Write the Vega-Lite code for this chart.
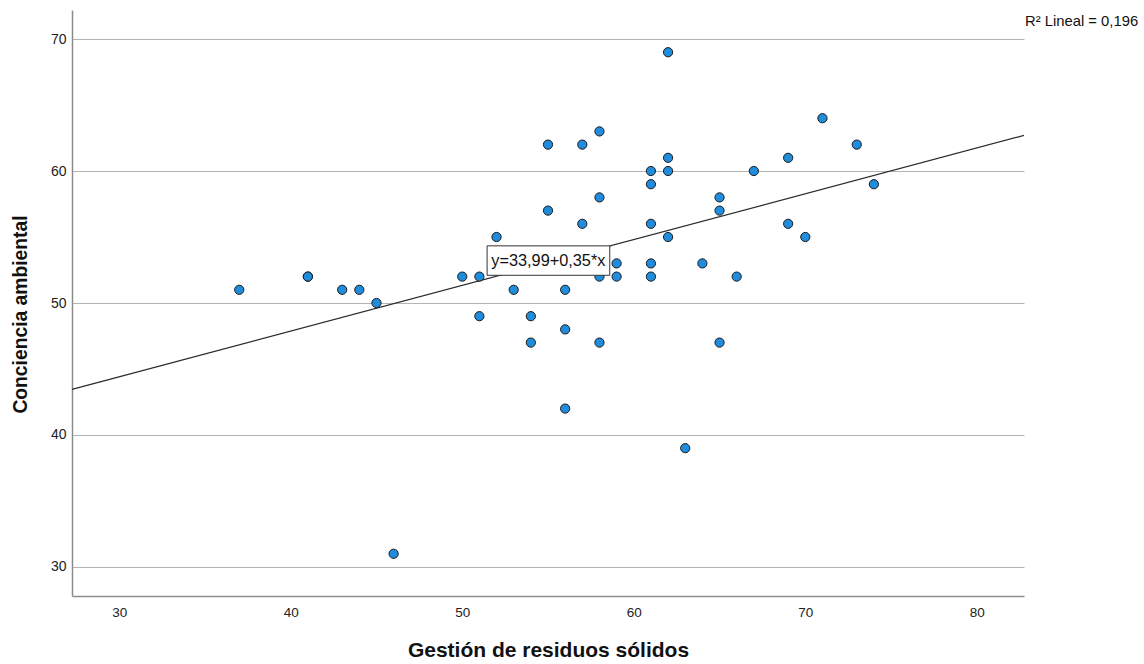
{
  "$schema": "https://vega.github.io/schema/vega-lite/v6.json",
  "width": 952,
  "height": 586,
  "autosize": "none",
  "padding": {"left": 72, "top": 10, "right": 120, "bottom": 68},
  "background": "white",
  "config": {
    "view": {"stroke": null},
    "font": "Liberation Sans"
  },
  "datasets": {
    "points": [
      {"gestion": 37, "conciencia": 51},
      {"gestion": 41, "conciencia": 52},
      {"gestion": 41, "conciencia": 52},
      {"gestion": 43, "conciencia": 51},
      {"gestion": 44, "conciencia": 51},
      {"gestion": 45, "conciencia": 50},
      {"gestion": 46, "conciencia": 31},
      {"gestion": 50, "conciencia": 52},
      {"gestion": 51, "conciencia": 52},
      {"gestion": 51, "conciencia": 49},
      {"gestion": 52, "conciencia": 55},
      {"gestion": 53, "conciencia": 51},
      {"gestion": 54, "conciencia": 49},
      {"gestion": 54, "conciencia": 47},
      {"gestion": 55, "conciencia": 62},
      {"gestion": 55, "conciencia": 57},
      {"gestion": 56, "conciencia": 51},
      {"gestion": 56, "conciencia": 48},
      {"gestion": 56, "conciencia": 42},
      {"gestion": 57, "conciencia": 62},
      {"gestion": 57, "conciencia": 56},
      {"gestion": 58, "conciencia": 63},
      {"gestion": 58, "conciencia": 58},
      {"gestion": 58, "conciencia": 52},
      {"gestion": 58, "conciencia": 47},
      {"gestion": 59, "conciencia": 53},
      {"gestion": 59, "conciencia": 52},
      {"gestion": 61, "conciencia": 60},
      {"gestion": 61, "conciencia": 59},
      {"gestion": 61, "conciencia": 56},
      {"gestion": 61, "conciencia": 53},
      {"gestion": 61, "conciencia": 52},
      {"gestion": 62, "conciencia": 69},
      {"gestion": 62, "conciencia": 61},
      {"gestion": 62, "conciencia": 60},
      {"gestion": 62, "conciencia": 55},
      {"gestion": 63, "conciencia": 39},
      {"gestion": 64, "conciencia": 53},
      {"gestion": 65, "conciencia": 58},
      {"gestion": 65, "conciencia": 57},
      {"gestion": 65, "conciencia": 47},
      {"gestion": 66, "conciencia": 52},
      {"gestion": 67, "conciencia": 60},
      {"gestion": 69, "conciencia": 61},
      {"gestion": 69, "conciencia": 56},
      {"gestion": 70, "conciencia": 55},
      {"gestion": 71, "conciencia": 64},
      {"gestion": 73, "conciencia": 62},
      {"gestion": 74, "conciencia": 59}
    ],
    "fit": [
      {"gestion": 27.25, "conciencia": 43.45},
      {"gestion": 82.75, "conciencia": 62.7}
    ]
  },
  "layer": [
    {
      "data": {"name": "fit"},
      "mark": {"type": "line", "color": "#2a2a2a", "strokeWidth": 1.2},
      "encoding": {
        "x": {
          "field": "gestion",
          "type": "quantitative",
          "scale": {"domain": [27.25, 82.75], "nice": false, "zero": false},
          "axis": {
            "values": [30, 40, 50, 60, 70, 80],
            "grid": false,
            "ticks": false,
            "domainColor": "#8c8c8c",
            "domainWidth": 1.5,
            "labelFontSize": 13.5,
            "labelColor": "#222222",
            "labelPadding": 9,
            "title": "Gestión de residuos sólidos",
            "titleFontSize": 21,
            "titleFontWeight": "bold",
            "titleColor": "#111111",
            "titlePadding": 21
          }
        },
        "y": {
          "field": "conciencia",
          "type": "quantitative",
          "scale": {"domain": [27.8, 72.2], "nice": false, "zero": false},
          "axis": {
            "values": [30, 40, 50, 60, 70],
            "grid": true,
            "gridColor": "#b4b4b4",
            "gridWidth": 1.2,
            "ticks": false,
            "domainColor": "#8c8c8c",
            "domainWidth": 1.5,
            "labelFontSize": 14,
            "labelColor": "#222222",
            "labelPadding": 6,
            "title": "Conciencia ambiental",
            "titleFontSize": 19.3,
            "titleFontWeight": "bold",
            "titleColor": "#111111",
            "titlePadding": 20,
            "titleY": 304
          }
        }
      }
    },
    {
      "data": {"name": "points"},
      "mark": {
        "type": "point",
        "shape": "circle",
        "filled": true,
        "fill": "#1f8ddc",
        "stroke": "#1a1a1a",
        "strokeWidth": 1,
        "size": 85,
        "opacity": 1
      },
      "encoding": {
        "x": {"field": "gestion", "type": "quantitative"},
        "y": {"field": "conciencia", "type": "quantitative"}
      }
    },
    {
      "data": {"values": [{"label": "y=33,99+0,35*x"}]},
      "mark": {"type": "rect", "fill": "white", "stroke": "#333333", "strokeWidth": 1},
      "encoding": {
        "x": {"datum": 51.45},
        "x2": {"datum": 58.6},
        "y": {"datum": 52.1},
        "y2": {"datum": 54.33}
      }
    },
    {
      "data": {"values": [{"label": "y=33,99+0,35*x"}]},
      "mark": {"type": "text", "fontSize": 16.3, "color": "#111111", "align": "center", "baseline": "middle"},
      "encoding": {
        "x": {"datum": 55.02},
        "y": {"datum": 53.22},
        "text": {"field": "label"}
      }
    },
    {
      "data": {"values": [{"label": "R² Lineal = 0,196"}]},
      "mark": {"type": "text", "fontSize": 14.8, "color": "#111111", "align": "left", "baseline": "middle", "dx": 1},
      "encoding": {
        "x": {"datum": 82.75},
        "y": {"datum": 71.29},
        "text": {"field": "label"}
      }
    }
  ]
}
